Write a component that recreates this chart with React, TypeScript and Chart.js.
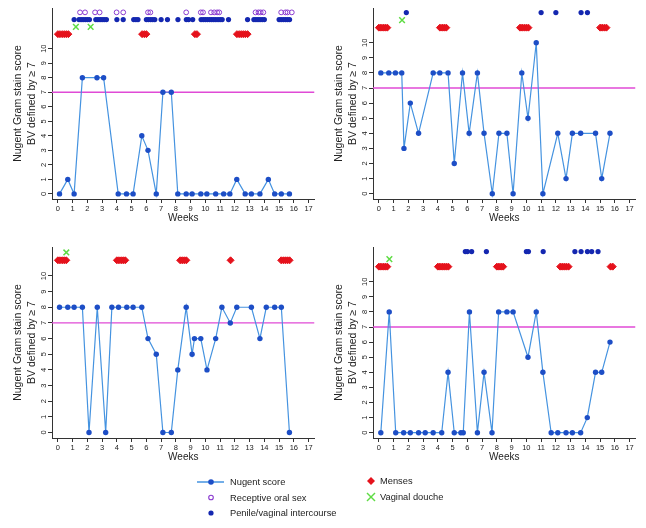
import React, { useEffect, useRef } from "react";
import { Chart, registerables } from "chart.js";
Chart.register(...registerables);

// ---- shared axis data ----
const xTickWeeks = [0, 1, 2, 3, 4, 5, 6, 7, 8, 9, 10, 11, 12, 13, 14, 15, 16, 17];
const yTickScores = [0, 1, 2, 3, 4, 5, 6, 7, 8, 9, 10];
const bvThreshold = 7;
const mensesRow = 11;
const doucheRow = 11.5;
const intercourseRow = 12;
const oralRow = 12.5;

// ---- panel 1 (top left) ----
const p1Weeks = [0.11, 0.67, 1.1, 1.66, 2.65, 3.1, 4.09, 4.65, 5.1, 5.69, 6.11, 6.67, 7.12, 7.69, 8.13, 8.7, 9.1, 9.69, 10.1, 10.7, 11.24, 11.66, 12.13, 12.7, 13.12, 13.7, 14.27, 14.7, 15.15, 15.7];
const p1Scores = [0, 1, 0, 8, 8, 8, 0, 0, 0, 4, 3, 0, 7, 7, 0, 0, 0, 0, 0, 0, 0, 0, 1, 0, 0, 0, 1, 0, 0, 0];
const p1Menses = [0, 0.14, 0.29, 0.43, 0.57, 0.71, 5.71, 5.86, 6.0, 9.29, 9.43, 12.14, 12.29, 12.43, 12.57, 12.71, 12.86];
const p1Douche = [1.22, 2.22];
const p1Intercourse = [1.1, 1.43, 1.57, 1.71, 1.86, 2.0, 2.14, 2.57, 2.71, 2.86, 3.0, 3.14, 3.29, 4.0, 4.43, 5.14, 5.29, 5.43, 6.0, 6.14, 6.29, 6.43, 6.57, 7.0, 7.43, 8.14, 8.71, 8.86, 9.14, 9.71, 9.86, 10.0, 10.14, 10.29, 10.43, 10.57, 10.71, 10.86, 11.0, 11.14, 11.57, 12.86, 13.29, 13.43, 13.57, 13.71, 13.86, 14.0, 15.0, 15.14, 15.29, 15.43, 15.57, 15.71];
const p1Oral = [1.5, 1.84, 2.52, 2.83, 3.98, 4.43, 6.11, 6.27, 8.7, 9.69, 9.84, 10.38, 10.6, 10.8, 10.94, 13.4, 13.6, 13.75, 13.93, 15.14, 15.43, 15.57, 15.86];
const p1YMax = 12.8;

// ---- panel 2 (top right) ----
const p2Weeks = [0.13, 0.67, 1.12, 1.55, 1.7, 2.13, 2.69, 3.68, 4.13, 4.69, 5.11, 5.67, 6.12, 6.68, 7.13, 7.69, 8.14, 8.68, 9.1, 9.69, 10.11, 10.67, 11.12, 12.13, 12.69, 13.12, 13.68, 14.69, 15.11, 15.67];
const p2Scores = [8, 8, 8, 8, 3, 6, 4, 8, 8, 8, 2, 8, 4, 8, 4, 0, 4, 4, 0, 8, 5, 10, 0, 4, 1, 4, 4, 4, 1, 4];
const p2Menses = [0, 0.14, 0.29, 0.43, 0.57, 4.14, 4.29, 4.43, 4.57, 9.57, 9.71, 9.86, 10.0, 10.14, 15.0, 15.14, 15.29, 15.43];
const p2Douche = [1.57];
const p2Intercourse = [1.86, 11.0, 12.0, 13.71, 14.14];
const p2Oral: number[] = [];
const p2YMax = 12.3;

// ---- panel 3 (bottom left) ----
const p3Weeks = [0.11, 0.67, 1.1, 1.66, 2.11, 2.67, 3.24, 3.66, 4.11, 4.67, 5.1, 5.69, 6.11, 6.67, 7.12, 7.69, 8.13, 8.7, 9.1, 9.26, 9.69, 10.11, 10.7, 11.12, 11.69, 12.13, 13.12, 13.7, 14.13, 14.7, 15.15, 15.7];
const p3Scores = [8, 8, 8, 8, 0, 8, 0, 8, 8, 8, 8, 8, 6, 5, 0, 0, 4, 8, 5, 6, 6, 4, 6, 8, 7, 8, 8, 6, 8, 8, 8, 0];
const p3Menses = [0, 0.14, 0.29, 0.43, 0.57, 4.0, 4.14, 4.29, 4.43, 4.57, 8.29, 8.43, 8.57, 8.71, 11.71, 15.14, 15.29, 15.43, 15.57, 15.71];
const p3Douche = [0.57];
const p3Intercourse: number[] = [];
const p3Oral: number[] = [];
const p3YMax = 11.85;

// ---- panel 4 (bottom right) ----
const p4Weeks = [0.13, 0.7, 1.14, 1.68, 2.13, 2.69, 3.14, 3.68, 4.26, 4.69, 5.11, 5.56, 5.72, 6.14, 6.68, 7.13, 7.67, 8.12, 8.68, 9.1, 10.11, 10.67, 11.12, 11.68, 12.13, 12.69, 13.12, 13.68, 14.13, 14.69, 15.11, 15.67];
const p4Scores = [0, 8, 0, 0, 0, 0, 0, 0, 0, 4, 0, 0, 0, 8, 0, 4, 0, 8, 8, 8, 5, 8, 4, 0, 0, 0, 0, 0, 1, 4, 4, 6];
const p4Menses = [0, 0.14, 0.29, 0.43, 0.57, 4.0, 4.14, 4.29, 4.43, 4.57, 4.71, 8.0, 8.14, 8.29, 8.43, 12.29, 12.43, 12.57, 12.71, 12.86, 15.71, 15.86];
const p4Douche = [0.71];
const p4Intercourse = [5.86, 6.0, 6.29, 7.29, 10.0, 10.14, 11.14, 13.29, 13.71, 14.14, 14.43, 14.86];
const p4Oral: number[] = [];
const p4YMax = 12.3;

const legendLabels = ["Nugent score", "Receptive oral sex", "Penile/vaginal intercourse", "Menses", "Vaginal douche"];

const C = {
  line: "#4593e0",
  dot: "#1d4ec6",
  sex: "#1427b0",
  oral: "#8b3bd0",
  menses: "#e5121c",
  douche: "#5fdc44",
  ref: "#e04ad6",
  axis: "#333333",
  text: "#222222",
};
const FONT = "'Liberation Sans', Arial, Helvetica, sans-serif";

type PanelProps = {
  weeks: number[];
  scores: number[];
  menses: number[];
  douche: number[];
  intercourse: number[];
  oral: number[];
  yMax: number;
  left: number;
  top: number;
};

function Panel(props: PanelProps) {
  const ref = useRef<HTMLCanvasElement | null>(null);
  useEffect(() => {
    if (!ref.current) return;
    const row = (xs: number[], y: number) => xs.map((x) => ({ x, y }));
    const chart = new Chart(ref.current, {
      type: "scatter",
      data: {
        datasets: [
          {
            label: legendLabels[0],
            data: props.weeks.map((w, i) => ({ x: w, y: props.scores[i] })),
            showLine: true,
            borderColor: C.line,
            borderWidth: 1.2,
            pointRadius: 2.7,
            pointBackgroundColor: C.dot,
            pointBorderColor: C.dot,
            pointBorderWidth: 0,
            order: 1,
          },
          {
            label: "threshold",
            data: [
              { x: -0.4, y: bvThreshold },
              { x: 17.4, y: bvThreshold },
            ],
            showLine: true,
            borderColor: C.ref,
            borderWidth: 1.3,
            pointRadius: 0,
            order: 6,
          },
          {
            label: legendLabels[3],
            data: row(props.menses, mensesRow),
            pointStyle: "rectRot",
            pointRadius: 3.5,
            pointBackgroundColor: C.menses,
            pointBorderColor: C.menses,
            pointBorderWidth: 1,
            order: 2,
          },
          {
            label: legendLabels[4],
            data: row(props.douche, doucheRow),
            pointStyle: "crossRot",
            pointRadius: 4,
            pointBorderColor: C.douche,
            pointBorderWidth: 1.5,
            order: 2,
          },
          {
            label: legendLabels[2],
            data: row(props.intercourse, intercourseRow),
            pointStyle: "circle",
            pointRadius: 2.6,
            pointBackgroundColor: C.sex,
            pointBorderColor: C.sex,
            pointBorderWidth: 0,
            order: 2,
          },
          {
            label: legendLabels[1],
            data: row(props.oral, oralRow),
            pointStyle: "circle",
            pointRadius: 2.4,
            pointBackgroundColor: "rgba(0,0,0,0)",
            pointBorderColor: C.oral,
            pointBorderWidth: 1,
            order: 2,
          },
        ],
      },
      options: {
        animation: false,
        responsive: false,
        devicePixelRatio: 1,
        events: [],
        layout: { padding: { top: 8, right: 5, left: 0, bottom: 0 } },
        plugins: { legend: { display: false }, tooltip: { enabled: false } },
        scales: {
          x: {
            type: "linear",
            min: -0.4,
            max: 17.4,
            afterBuildTicks: (s: any) => {
              s.ticks = xTickWeeks.map((v) => ({ value: v }));
            },
            afterFit: (s: any) => {
              s.height = 31;
            },
            ticks: {
              autoSkip: false,
              maxRotation: 0,
              padding: 1,
              color: C.text,
              font: { family: FONT, size: 7.5 },
            },
            grid: { drawOnChartArea: false, drawTicks: true, tickLength: 4, color: C.axis },
            border: { display: true, color: C.axis, width: 1 },
            title: {
              display: true,
              text: "Weeks",
              color: C.text,
              font: { family: FONT, size: 10 },
              padding: { top: 0, bottom: 6 },
            },
          },
          y: {
            type: "linear",
            min: -0.35,
            max: props.yMax,
            afterBuildTicks: (s: any) => {
              s.ticks = yTickScores.map((v) => ({ value: v }));
            },
            afterFit: (s: any) => {
              s.width = 52;
            },
            ticks: {
              autoSkip: false,
              padding: 0,
              crossAlign: "center",
              minRotation: 90,
              maxRotation: 90,
              color: C.text,
              font: { family: FONT, size: 7.5 },
            },
            grid: { drawOnChartArea: false, drawTicks: true, tickLength: 4, color: C.axis },
            border: { display: true, color: C.axis, width: 1 },
            title: {
              display: true,
              text: ["Nugent Gram stain score", "BV defined by \u2265 7"],
              color: C.text,
              font: { family: FONT, size: 10.5, lineHeight: 1.33 },
              padding: { top: 11, bottom: 0 },
            },
          },
        },
      },
    } as any);
    return () => chart.destroy();
  }, []);
  return (
    <canvas
      ref={ref}
      width={320}
      height={230}
      style={{ position: "absolute", left: props.left, top: props.top, width: 320, height: 230 }}
    />
  );
}

function Legend() {
  const txt: React.CSSProperties = {
    position: "absolute",
    fontFamily: FONT,
    fontSize: 9.3,
    color: C.text,
    lineHeight: "12px",
    whiteSpace: "nowrap",
  };
  return (
    <>
      <svg width={646} height={528} style={{ position: "absolute", left: 0, top: 0, pointerEvents: "none" }}>
        <line x1={197} y1={482} x2={224} y2={482} stroke={C.line} strokeWidth={1.5} />
        <circle cx={211} cy={482} r={2.8} fill={C.dot} />
        <circle cx={211} cy={497.5} r={2.3} fill="none" stroke={C.oral} strokeWidth={1.1} />
        <circle cx={211} cy={513} r={2.6} fill={C.sex} />
        <polygon points="371,477 375,481 371,485 367,481" fill={C.menses} />
        <line x1={367} y1={493} x2={375} y2={501} stroke={C.douche} strokeWidth={1.5} />
        <line x1={375} y1={493} x2={367} y2={501} stroke={C.douche} strokeWidth={1.5} />
      </svg>
      <div style={{ ...txt, left: 230, top: 476 }}>{legendLabels[0]}</div>
      <div style={{ ...txt, left: 230, top: 491.5 }}>{legendLabels[1]}</div>
      <div style={{ ...txt, left: 230, top: 507 }}>{legendLabels[2]}</div>
      <div style={{ ...txt, left: 380, top: 475 }}>{legendLabels[3]}</div>
      <div style={{ ...txt, left: 380, top: 491 }}>{legendLabels[4]}</div>
    </>
  );
}

export default function App() {
  return (
    <div style={{ position: "fixed", left: 0, top: 0, width: 646, height: 528, background: "#fff", overflow: "hidden" }}>
      <Panel weeks={p1Weeks} scores={p1Scores} menses={p1Menses} douche={p1Douche} intercourse={p1Intercourse} oral={p1Oral} yMax={p1YMax} left={0} top={0} />
      <Panel weeks={p2Weeks} scores={p2Scores} menses={p2Menses} douche={p2Douche} intercourse={p2Intercourse} oral={p2Oral} yMax={p2YMax} left={321} top={0} />
      <Panel weeks={p3Weeks} scores={p3Scores} menses={p3Menses} douche={p3Douche} intercourse={p3Intercourse} oral={p3Oral} yMax={p3YMax} left={0} top={239} />
      <Panel weeks={p4Weeks} scores={p4Scores} menses={p4Menses} douche={p4Douche} intercourse={p4Intercourse} oral={p4Oral} yMax={p4YMax} left={321} top={239} />
      <Legend />
    </div>
  );
}
